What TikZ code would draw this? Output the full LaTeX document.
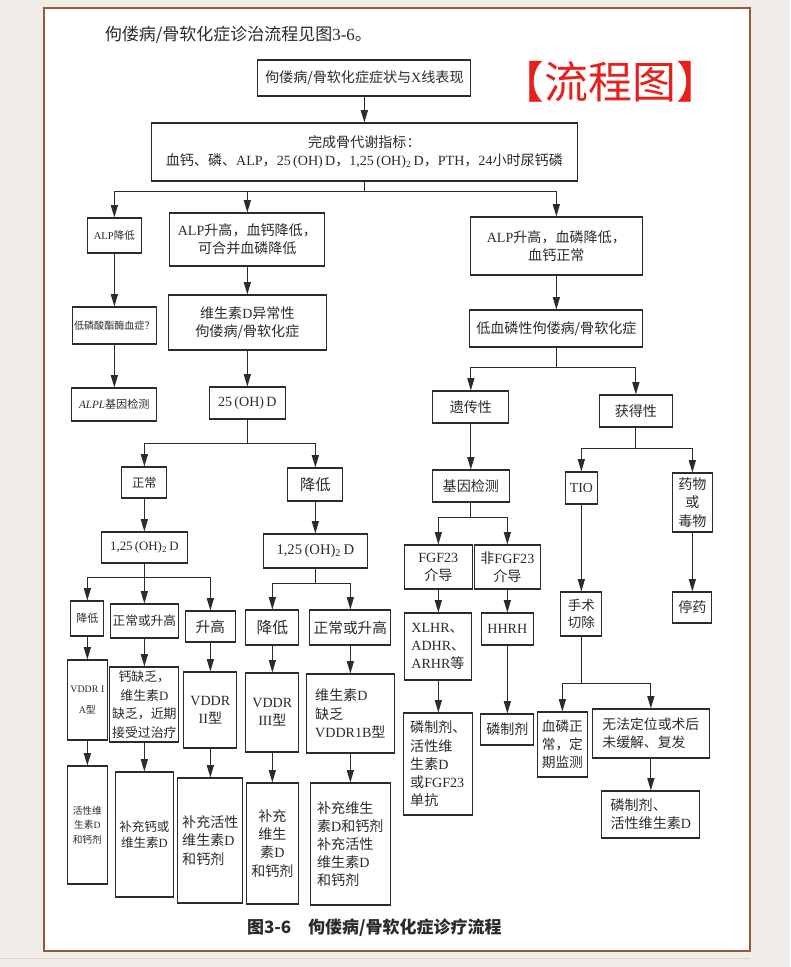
\documentclass[tikz,border=0pt]{standalone}
\usepackage{fontspec}
\setmainfont{Noto Sans CJK SC}
\newfontfamily\romn{Liberation Serif}
\usetikzlibrary{positioning, arrows.meta}

\definecolor{pagebg}{HTML}{F0ECE8}
\definecolor{framebrown}{HTML}{99573A}
\definecolor{markred}{HTML}{E8201C}
\definecolor{ink}{HTML}{2B2B2B}

\newcommand{\entxt}[1]{{\romn #1}}
\newcommand{\ohD}{\entxt{25\,(OH)\,D}}
\newcommand{\ohDD}{\entxt{1,25\,(OH)\textsubscript{2}\,D}}

\tikzset{
    wh/.style 2 args={
        minimum width=#1*0.03cm,
        minimum height=#2*0.03cm
    }
}

\begin{document}
\begin{tikzpicture}[
    x=0.03cm, y=-0.03cm,
    >={Triangle[length=10.5pt,width=6pt]},
    line width=1pt,
    arrow/.style={
        ->,
        draw=ink
    },
    box/.style={
        rectangle,
        draw=ink,
        fill=white,
        text=ink,
        inner sep=1.5pt,
        align=center,
        font=\fontsize{12}{15.5}\selectfont
    },
    lbox/.style={
        box,
        align=left
    }
]

    % Page and frame
    \fill[pagebg] (0,0) rectangle (790,967);
    \fill[white] (44,8) rectangle (750,951);
    \draw[framebrown, line width=1.6pt] (44,8) rectangle (750,951);
    \draw[framebrown!30, line width=0.6pt] (0,958) -- (750,958);
    \useasboundingbox (0,0) rectangle (790,967);

    % Intro line and mark
    \node[anchor=west, text=ink, font=\fontsize{14.5}{17}\selectfont] (intro) at (100,35) {佝偻病/骨软化症诊治流程见图\entxt{3-6}。};
    \node[text=markred, font=\fontsize{37.5}{40}\selectfont] (mark) at (610,82) {【流程图】};

    % Symptoms and lab tests
    \node[box, wh={213}{36}] (sympt) at (364,78) {佝偻病/骨软化症症状与\entxt{X}线表现};
    \node[box, wh={426}{58}] (labs) at (364,152) {完成骨代谢指标：\\血钙、磷、\entxt{ALP}，\ohD，\ohDD，\entxt{PTH}，\entxt{24}小时尿钙磷};
    \draw[arrow] (sympt) -- (labs);

    % ALP branches
    \node[box, font=\fontsize{9}{12}\selectfont, wh={54}{35}] (alpdown) at (114,235.5) {\entxt{ALP}降低};
    \node[box, wh={155}{53}] (alpup) at (247,239.5) {\entxt{ALP}升高，血钙降低，\\可合并血磷降低};
    \node[box, wh={172}{58}] (alpupP) at (556,246) {\entxt{ALP}升高，血磷降低，\\血钙正常};
    \draw[arrow] (labs.south) -- ++(0,10) -| (alpdown.north);
    \draw[arrow] (labs.south) -- ++(0,10) -| (alpup.north);
    \draw[arrow] (labs.south) -- ++(0,10) -| (alpupP.north);

    % Hypophosphatasia column
    \node[box, font=\fontsize{8.6}{11}\selectfont, wh={84}{37}] (hpp) at (114,325.5) {低磷酸酯酶血症？};
    \node[box, font=\fontsize{9.5}{12}\selectfont, wh={85}{33}] (alplgene) at (114,404.5) {\entxt{\itshape ALPL}基因检测};
    \draw[arrow] (alpdown) -- (hpp);
    \draw[arrow] (hpp) -- (alplgene);

    % Vitamin D column
    \node[box, wh={158}{55}] (vitd) at (247,322.5) {维生素\entxt{D}异常性\\佝偻病/骨软化症};
    \node[box, wh={76}{32}] (ohd) at (247,403) {\ohD};
    \draw[arrow] (alpup) -- (vitd);
    \draw[arrow] (vitd) -- (ohd);

    \node[box, font=\fontsize{10.5}{13}\selectfont, wh={45}{31}] (normal) at (144,482.5) {正常};
    \node[box, font=\fontsize{13}{16}\selectfont, wh={55}{33}] (lowered) at (315,484.5) {降低};
    \draw[arrow] (ohd.south) -- ++(0,24) -| (normal.north);
    \draw[arrow] (ohd.south) -- ++(0,24) -| (lowered.north);

    \node[box, font=\fontsize{11}{14}\selectfont, wh={86}{31}] (dhL) at (144,547.5) {\ohDD};
    \node[box, font=\fontsize{12.5}{15}\selectfont, wh={104}{34}] (dhR) at (315,551) {\ohDD};
    \draw[arrow] (normal) -- (dhL);
    \draw[arrow] (lowered) -- (dhR);

    % 1,25(OH)2D levels
    \node[box, font=\fontsize{9.4}{12}\selectfont, wh={33}{35}] (lowL) at (87,618.5) {降低};
    \node[box, font=\fontsize{10.8}{13}\selectfont, wh={68}{34}] (nhL) at (144,621) {正常或升高};
    \node[box, font=\fontsize{12.5}{15}\selectfont, wh={50}{31}] (highL) at (210,626.5) {升高};
    \draw[arrow] (dhL.south) -- ++(0,14) -| (lowL.north);
    \draw[arrow] (dhL.south) -- ++(0,14) -| (nhL.north);
    \draw[arrow] (dhL.south) -- ++(0,14) -| (highL.north);

    \node[box, font=\fontsize{13.5}{16}\selectfont, wh={53}{35}] (lowR) at (272,627.5) {降低};
    \node[box, font=\fontsize{12.5}{15}\selectfont, wh={81}{35}] (nhR) at (350,627.5) {正常或升高};
    \draw[arrow] (dhR.south) -- ++(0,15) -| (lowR.north);
    \draw[arrow] (dhR.south) -- ++(0,15) -| (nhR.north);

    % Diagnoses
    \node[box, font=\fontsize{8.5}{18}\selectfont, wh={40}{80}] (vddrIA) at (87,700) {\entxt{VDDR I}\\\entxt{A}型};
    \node[box, font=\fontsize{11}{16}\selectfont, wh={69}{75}] (cadef) at (144,704.5) {钙缺乏，\\维生素\entxt{D}\\缺乏，近期\\接受过治疗};
    \node[box, wh={53}{76}] (vddrII) at (210,710) {\entxt{VDDR}\\\entxt{II}型};
    \node[box, wh={53}{79}] (vddrIII) at (272,712.5) {\entxt{VDDR}\\\entxt{III}型};
    \node[lbox, wh={88}{79}] (vddrIB) at (350,713.5) {维生素\entxt{D}\\缺乏\\\entxt{VDDR1B}型};
    \draw[arrow] (lowL) -- (vddrIA);
    \draw[arrow] (nhL) -- (cadef);
    \draw[arrow] (highL) -- (vddrII);
    \draw[arrow] (lowR) -- (vddrIII);
    \draw[arrow] (nhR) -- (vddrIB);

    % Treatments, left part
    \node[box, font=\fontsize{8.3}{12.5}\selectfont, wh={40}{118}] (actvd) at (87,825) {活性维\\生素\entxt{D}\\和钙剂};
    \node[box, font=\fontsize{10.7}{14}\selectfont, wh={58}{125}] (caorvd) at (144,834.5) {补充钙或\\维生素\entxt{D}};
    \node[lbox, wh={65}{125}] (actvdca) at (210,840.5) {补充活性\\维生素\entxt{D}\\和钙剂};
    \node[box, wh={52}{121}] (vdca) at (272,843.5) {补充\\维生\\素\entxt{D}\\和钙剂};
    \node[lbox, wh={80}{122}] (vdcaboth) at (350,844) {补充维生\\素\entxt{D}和钙剂\\补充活性\\维生素\entxt{D}\\和钙剂};
    \draw[arrow] (vddrIA) -- (actvd);
    \draw[arrow] (cadef) -- (caorvd);
    \draw[arrow] (vddrII) -- (actvdca);
    \draw[arrow] (vddrIII) -- (vdca);
    \draw[arrow] (vddrIB) -- (vdcaboth);

    % Hypophosphatemic side
    \node[box, wh={173}{37}] (hypo) at (556,328.5) {低血磷性佝偻病/骨软化症};
    \draw[arrow] (alpupP) -- (hypo);

    \node[box, wh={76}{32}] (hered) at (470.5,407) {遗传性};
    \node[box, wh={73}{32}] (acquired) at (635.5,411) {获得性};
    \draw[arrow] (hypo.south) -- ++(0,20) -| (hered.north);
    \draw[arrow] (hypo.south) -- ++(0,20) -| (acquired.north);

    % Hereditary
    \node[box, wh={77}{32}] (gtest) at (470.5,486) {基因检测};
    \draw[arrow] (hered) -- (gtest);

    \node[box, wh={68}{44}] (fgf) at (438,567) {\entxt{FGF23}\\介导};
    \node[box, wh={66}{44}] (nfgf) at (507,567) {非\entxt{FGF23}\\介导};
    \draw[arrow] (gtest.south) -- ++(0,15) -| (fgf.north);
    \draw[arrow] (gtest.south) -- ++(0,15) -| (nfgf.north);

    \node[lbox, wh={67}{67}] (xlhr) at (438,646.5) {\entxt{XLHR}、\\\entxt{ADHR}、\\\entxt{ARHR}等};
    \node[box, wh={52}{32}] (hhrh) at (507,629) {\entxt{HHRH}};
    \draw[arrow] (fgf) -- (xlhr);
    \draw[arrow] (nfgf) -- (hhrh);

    \node[lbox, wh={69}{102}] (phosfgf) at (438,764) {磷制剂、\\活性维\\生素\entxt{D}\\或\entxt{FGF23}\\单抗};
    \node[box, wh={53}{31}] (phos) at (507,729.5) {磷制剂};
    \draw[arrow] (xlhr) -- (phosfgf);
    \draw[arrow] (hhrh) -- (phos);

    % Acquired
    \node[box, font=\fontsize{11.8}{15}\selectfont, wh={32}{32}] (tio) at (581,488) {\entxt{TIO}};
    \node[box, wh={40}{59}] (drug) at (692,502.5) {药物\\或\\毒物};
    \draw[arrow] (acquired.south) -- ++(0,21) -| (tio.north);
    \draw[arrow] (acquired.south) -- ++(0,21) -| (drug.north);

    \node[box, font=\fontsize{11.5}{15}\selectfont, wh={41}{44}] (surgery) at (581,614) {手术\\切除};
    \node[box, wh={39}{31}] (stopdrug) at (692,607.5) {停药};
    \draw[arrow] (tio) -- (surgery);
    \draw[arrow] (drug) -- (stopdrug);

    \node[box, font=\fontsize{11.7}{15.5}\selectfont, wh={50}{65}] (monitor) at (562,744.5) {血磷正\\常，定\\期监测};
    \node[lbox, font=\fontsize{11.8}{15.5}\selectfont, wh={117}{49}] (relapse) at (650.5,733.5) {无法定位或术后\\未缓解、复发};
    \draw[arrow] (surgery.south) -- ++(0,47) -| (monitor.north);
    \draw[arrow] (surgery.south) -- ++(0,47) -| (relapse.north);

    \node[lbox, wh={98}{47}] (phosvd) at (650.5,814.5) {磷制剂、\\活性维生素\entxt{D}};
    \draw[arrow] (relapse) -- (phosvd);

    % Caption
    \node[text=ink, font=\fontsize{14.5}{17}\selectfont\bfseries] (caption) at (374,928) {图3-6　佝偻病/骨软化症诊疗流程};

\end{tikzpicture}
\end{document}
